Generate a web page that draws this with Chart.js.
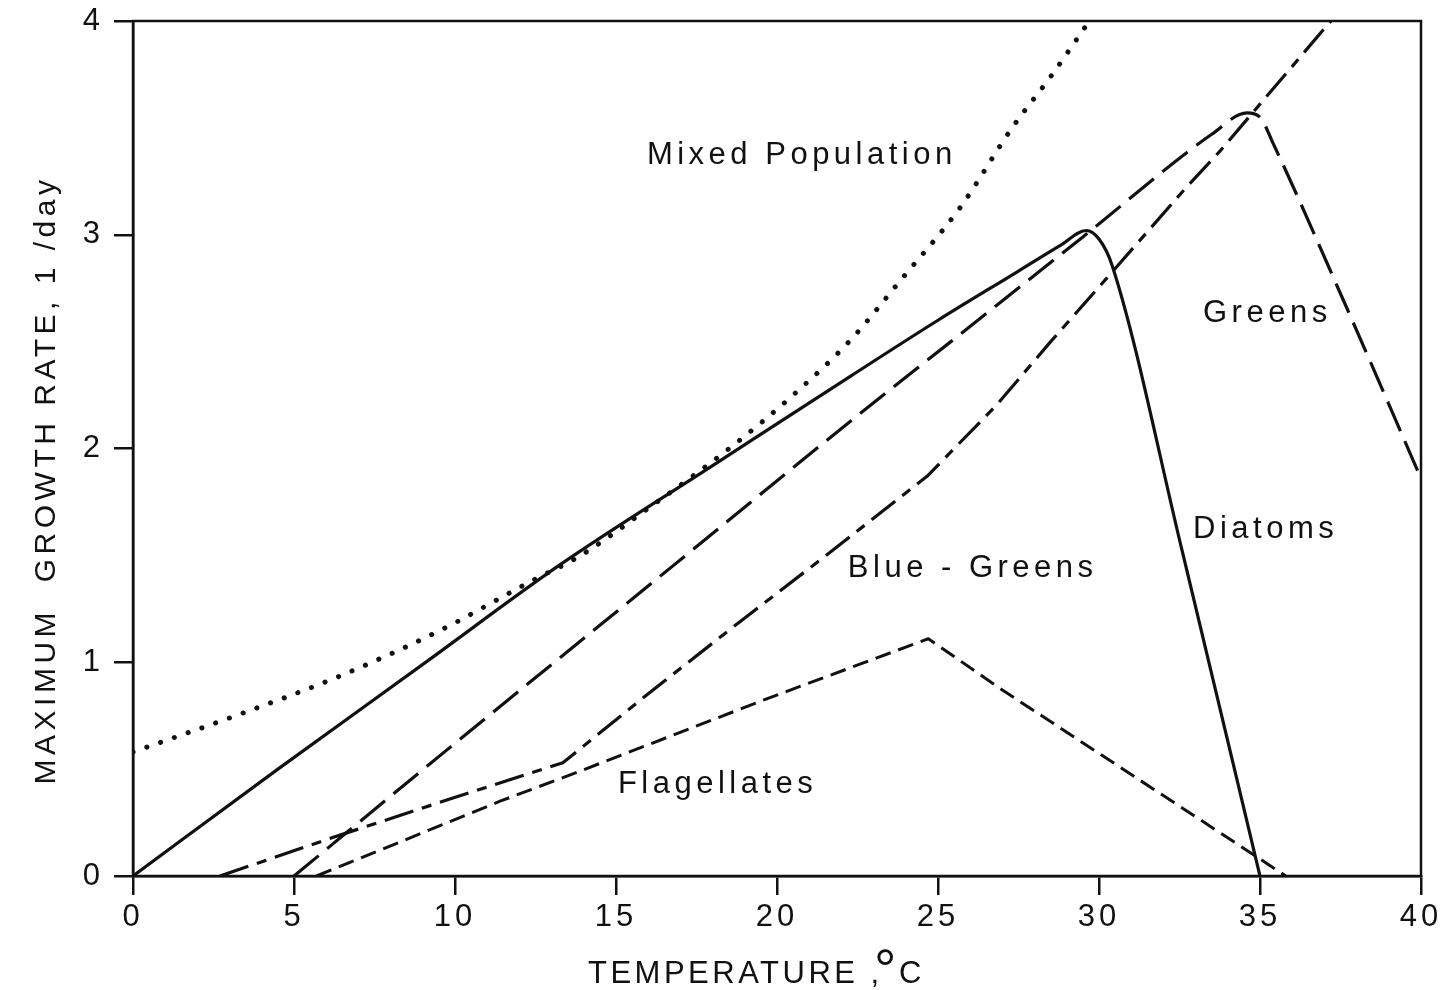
<!DOCTYPE html>
<html><head><meta charset="utf-8">
<script src="https://cdn.jsdelivr.net/npm/chart.js@4.4.1/dist/chart.umd.min.js"></script>
<style>html,body{margin:0;padding:0;background:#fff}canvas{display:block}</style>
</head><body>
<canvas id="c" width="1451" height="990"></canvas>
<script>
// ---- data ----
const xTicks = [0, 5, 10, 15, 20, 25, 30, 35, 40];
const yTicks = [0, 1, 2, 3, 4];

const mixedTemp = [0, 3.3, 6.4, 9.5, 12.5, 13.8, 16, 18.6, 20.5, 22.3, 23.8, 25.7, 27.3, 28.5, 29.7];
const mixedRate = [0.58, 0.756, 0.934, 1.146, 1.39, 1.49, 1.72, 2.01, 2.25, 2.51, 2.78, 3.13, 3.5, 3.74, 4.0];

const diatomsTemp = [0, 4.5, 9, 13.3, 18, 22.3, 25, 27.5, 28.8, 29.6, 30.0, 30.4, 32.6, 35];
const diatomsRate = [0, 0.5, 0.99, 1.46, 1.92, 2.34, 2.6, 2.83, 2.95, 3.02, 2.98, 2.86, 1.51, 0];

const greensTemp = [5, 9.75, 16.27, 22.3, 25.4, 29.5, 33.5, 34.6, 35.0, 35.4, 37.6, 40];
const greensRate = [0, 0.59, 1.39, 2.13, 2.5, 2.99, 3.47, 3.57, 3.55, 3.43, 2.69, 1.86];

const blueTemp = [2.7, 6.2, 9.84, 13.35, 16.06, 18.85, 21.7, 24.66, 26.8, 28.5, 30.2, 32.7, 33.75, 37.2];
const blueRate = [0, 0.18, 0.36, 0.53, 0.86, 1.19, 1.52, 1.87, 2.2, 2.5, 2.79, 3.22, 3.39, 4.0];

const flagTemp = [5.7, 11.4, 13.7, 19.7, 24.7, 27.0, 35.2, 35.8];
const flagRate = [0, 0.35, 0.48, 0.83, 1.11, 0.87, 0.06, 0];

const labelTexts = ['Mixed Population', 'Greens', 'Diatoms', 'Blue - Greens', 'Flagellates'];
const labelTemp = [15.96, 33.23, 32.92, 22.2, 15.06];
const labelRate = [3.33, 2.59, 1.58, 1.40, 0.39];

const yTitle = 'MAXIMUM  GROWTH RATE, 1 /day';
const xTitleMain = 'TEMPERATURE ,';
const xTitleDeg = '°';
const xTitleUnit = 'C';

// ---- build ----
const pts = (xs, ys) => xs.map((x, i) => ({x: x, y: ys[i]}));
const FONT = '"Liberation Sans", Arial, Helvetica, sans-serif';
const INK = '#111';

const series = [
  {label: 'Mixed Population', data: pts(mixedTemp, mixedRate), borderWidth: 5, borderDash: [0.1, 14.5], borderCapStyle: 'round', cubicInterpolationMode: 'monotone'},
  {label: 'Diatoms', data: pts(diatomsTemp, diatomsRate), borderWidth: 3.2, borderDash: [], cubicInterpolationMode: 'monotone'},
  {label: 'Greens', data: pts(greensTemp, greensRate), borderWidth: 3.2, borderDash: [32, 11], cubicInterpolationMode: 'monotone'},
  {label: 'Blue-Greens', data: pts(blueTemp, blueRate), borderWidth: 3.2, borderDash: [30, 9, 10, 9], tension: 0},
  {label: 'Flagellates', data: pts(flagTemp, flagRate), borderWidth: 3, borderDash: [16, 8], tension: 0}
].map(d => Object.assign({borderColor: INK, backgroundColor: INK, pointRadius: 0, fill: false, borderJoinStyle: 'round'}, d));

const decor = {
  id: 'decor',
  beforeDraw(chart) {
    chart.ctx.letterSpacing = '4px';
  },
  afterDatasetsDraw(chart) {
    const {ctx, chartArea: a} = chart;
    ctx.save();
    ctx.strokeStyle = INK;
    ctx.lineWidth = 2.5;
    ctx.strokeRect(a.left, a.top, a.right - a.left, a.bottom - a.top);
    ctx.restore();
  },
  afterDraw(chart) {
    const {ctx} = chart;
    const xs = chart.scales.x, ys = chart.scales.y;
    ctx.save();
    ctx.fillStyle = INK;
    ctx.textBaseline = 'alphabetic';
    ctx.textAlign = 'left';
    ctx.letterSpacing = '4.5px';
    ctx.font = '31px ' + FONT;
    labelTexts.forEach((t, i) => {
      ctx.fillText(t, xs.getPixelForValue(labelTemp[i]), ys.getPixelForValue(labelRate[i]));
    });
    // x title
    ctx.letterSpacing = '3.5px';
    ctx.font = '31px ' + FONT;
    ctx.fillText(xTitleMain, 588, 983);
    ctx.letterSpacing = '0px';
    ctx.font = '56px ' + FONT;
    ctx.fillText(xTitleDeg, 874, 988);
    ctx.font = '31px ' + FONT;
    ctx.fillText(xTitleUnit, 899, 983);
    // y title
    ctx.translate(55, 480);
    ctx.rotate(-Math.PI / 2);
    ctx.letterSpacing = '4.5px';
    ctx.textAlign = 'center';
    ctx.font = '30px ' + FONT;
    ctx.fillText(yTitle, 0, 0);
    ctx.restore();
  }
};

new Chart(document.getElementById('c'), {
  type: 'line',
  data: {datasets: series},
  options: {
    responsive: false,
    animation: false,
    devicePixelRatio: 1,
    layout: {padding: {left: 0, top: 21, right: 30, bottom: 0}},
    plugins: {legend: {display: false}, tooltip: {enabled: false}},
    scales: {
      x: {
        type: 'linear', min: 0, max: 40,
        afterBuildTicks: s => { s.ticks = xTicks.map(v => ({value: v})); },
        afterFit: s => { s.height = 114; },
        grid: {drawOnChartArea: false, drawTicks: true, tickLength: 19, color: INK, lineWidth: 2.5},
        border: {display: true, color: INK, width: 2.5},
        ticks: {color: INK, font: {family: FONT, size: 31}, padding: 4, maxRotation: 0, autoSkip: false}
      },
      y: {
        type: 'linear', min: 0, max: 4,
        afterBuildTicks: s => { s.ticks = yTicks.map(v => ({value: v})); },
        afterFit: s => { s.width = 133; },
        grid: {drawOnChartArea: false, drawTicks: true, tickLength: 19, color: INK, lineWidth: 2.5},
        border: {display: true, color: INK, width: 2.5},
        ticks: {color: INK, font: {family: FONT, size: 31, lineHeight: 0.7}, padding: 10, autoSkip: false}
      }
    }
  },
  plugins: [decor]
});
</script>
</body></html>
